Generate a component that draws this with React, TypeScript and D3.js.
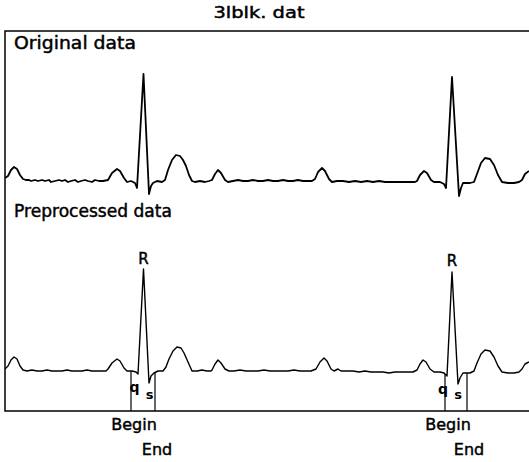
import React from 'react'
import * as d3 from 'd3'

// sample index, amplitude
const originalData: [number, number][] = [
  [0, 3], [3, 5], [6, 11], [9, 14], [12, 12], [15, 6], [18, 2],
  [21, 1], [24, 1], [26, 0], [30, 1], [33, 0], [37, 1], [40, 0], [44, 1], [46, -1], [50, 0],
  [54, 1], [57, 0], [60, 1], [63, -1], [66, 0], [70, 1], [73, -1], [76, 0], [80, 1], [83, 0],
  [87, -1], [90, 1], [94, 0], [98, 0],
  [103, 1], [107, 8], [112, 12], [115, 10], [119, 3], [122, -1], [126, 0], [130, -2], [132, -7],
  [138.5, 107], [144, -13], [146, -5], [148, -2], [152, 0], [157, -1], [160, 1], [163, 11],
  [167, 21], [171, 26], [175, 25], [178, 21], [181, 15], [184, 6], [187, 0],
  [190, -1], [195, 0], [200, -1], [204, 0],
  [207, 1], [210, 7], [213, 11], [216, 8], [220, 1], [223, -1],
  [228, 0], [233, 1], [238, 0], [243, 0], [248, 1], [253, 0], [258, 0], [263, 1], [268, 0],
  [273, 0], [278, 1], [283, 0], [288, 0], [293, 1], [298, 0], [303, 0], [307, 0],
  [310, 2], [313, 9], [317, 13], [320, 10], [324, 2], [327, -1],
  [332, 0], [338, 0], [344, -1], [350, 0], [356, -1], [362, 0], [368, -1], [374, 0], [380, -1],
  [386, -1], [392, -1], [398, -1], [404, -1], [410, -1],
  [412, 0], [415, 6], [419, 10], [422, 8], [426, 1], [429, -1], [435, -1], [439, -3], [441, -7],
  [447, 104], [454, -15], [456, -7], [458, -2], [465, -2], [469, -1], [472, 7], [476, 18],
  [480, 23], [485, 22], [489, 16], [493, 6], [497, -1], [503, -2], [509, -2], [514, -1],
  [517, 1], [520, 7], [524, 10]
]

const preprocessedData: [number, number][] = [
  [0, 2], [3, 5], [6, 11], [9, 14], [12, 12], [15, 5], [18, 1],
  [22, 0], [27, 1], [32, 0], [37, 0], [42, 1], [47, 0], [52, 0], [57, 0], [62, 1], [67, 0],
  [72, 0], [77, 0], [82, 1], [87, 0], [92, 0], [97, 0], [101, 0],
  [103, 2], [107, 8], [112, 12], [115, 10], [119, 3], [122, 0], [127, 0], [131, -1], [133, -3],
  [138.5, 102], [144, -12], [146, -5], [149, -2], [153, 0], [158, 0], [161, 4], [164, 12],
  [168, 20], [172, 24], [176, 23], [179, 18], [183, 9], [187, 0],
  [192, 0], [197, 1], [202, 0], [206, 0],
  [207, 1], [210, 7], [213, 11], [216, 8], [220, 2], [224, 0],
  [229, 0], [235, 1], [241, 0], [247, 0], [253, 0], [259, 1], [265, 0], [271, 0], [277, 0],
  [283, 0], [289, 1], [295, 0], [301, 0], [306, 0],
  [311, 2], [315, 9], [319, 13], [322, 10], [326, 2], [329, 0], [333, 2], [336, 0],
  [342, 0], [348, 0], [354, -1], [360, 0], [366, -1], [372, -1], [378, -1], [384, -2], [390, -1],
  [396, -1], [402, -1], [408, -1],
  [412, 1], [415, 7], [418, 11], [421, 9], [425, 2], [429, -1], [435, -1], [439, -2], [442, -5],
  [447, 99], [453, -13], [455, -7], [458, -2], [465, -2], [469, 0], [472, 8], [476, 17],
  [480, 21], [485, 20], [489, 14], [493, 5], [497, -1], [503, -2], [509, -2], [514, -1],
  [517, 2], [520, 7], [524, 9]
]

// R peaks and QRS begin / end sample indices
const rPeaks = [138.5, 447]
const qrsBegin = [126, 440]
const qrsEnd = [150, 462]

const W = 529
const H = 462
const FONT = 'DejaVu Sans, Verdana, sans-serif'

const x = d3.scaleLinear().domain([0, 524]).range([5, 529])
const yTop = d3.scaleLinear().domain([0, 100]).range([181, 81])
const yBot = d3.scaleLinear().domain([0, 100]).range([371, 271])

const lineTop = d3.line<[number, number]>().x(d => x(d[0])).y(d => yTop(d[1]))
const lineBot = d3.line<[number, number]>().x(d => x(d[0])).y(d => yBot(d[1]))

// amplitude of the preprocessed trace at sample t
function ampAt(t: number) {
  const i = d3.bisector((d: [number, number]) => d[0]).left(preprocessedData, t)
  const a = preprocessedData[Math.max(0, i - 1)]
  const b = preprocessedData[Math.min(preprocessedData.length - 1, i)]
  if (a[0] === b[0]) return a[1]
  return a[1] + (b[1] - a[1]) * (t - a[0]) / (b[0] - a[0])
}

const frameBottom = 411
const ink = { fill: '#000', stroke: '#000', strokeWidth: 0.45 }

export default function App() {
  return (
    <svg width={W} height={H} style={{ position: 'absolute', left: 0, top: 0, background: '#fff' }}
      fontFamily={FONT}>
      <text x={259} y={18} fontSize={15} textAnchor="middle" textLength={91} lengthAdjust="spacingAndGlyphs" {...ink}>3lblk. dat</text>

      {/* frame */}
      <path d={`M${W + 2},31 H5 V${frameBottom} H${W + 2}`} fill="none" stroke="#000" strokeWidth={1.5} />

      <text x={14} y={49} fontSize={17} textLength={122} lengthAdjust="spacingAndGlyphs" {...ink}>Original data</text>
      <text x={14} y={217} fontSize={17} textLength={158} lengthAdjust="spacingAndGlyphs" {...ink}>Preprocessed data</text>

      <path d={lineTop(originalData) || ''} fill="none" stroke="#000" strokeWidth={1.8} strokeLinejoin="round" />
      <path d={lineBot(preprocessedData) || ''} fill="none" stroke="#000" strokeWidth={1.4} strokeLinejoin="round" />

      {rPeaks.map((r, i) => (
        <g key={i}>
          <text x={x(r)} y={264 + i * 2} fontSize={15} textAnchor="middle" {...ink}>R</text>
          <line x1={x(qrsBegin[i])} x2={x(qrsBegin[i])} y1={yBot(ampAt(qrsBegin[i]))} y2={frameBottom} stroke="#000" strokeWidth={1.2} />
          <line x1={x(qrsEnd[i])} x2={x(qrsEnd[i])} y1={yBot(ampAt(qrsEnd[i]))} y2={frameBottom} stroke="#000" strokeWidth={1.2} />
          <text x={x(r) - 9} y={392 + i * 2} fontSize={14} textAnchor="middle" fontWeight="bold">q</text>
          <text x={x(r) + 6} y={399} fontSize={13} textAnchor="middle" fontWeight="bold">s</text>
          <text x={x(qrsBegin[i]) + 3} y={430} fontSize={16} textAnchor="middle" {...ink}>Begin</text>
          <text x={x(qrsEnd[i]) + 2} y={455} fontSize={16} textAnchor="middle" {...ink}>End</text>
        </g>
      ))}
    </svg>
  )
}
